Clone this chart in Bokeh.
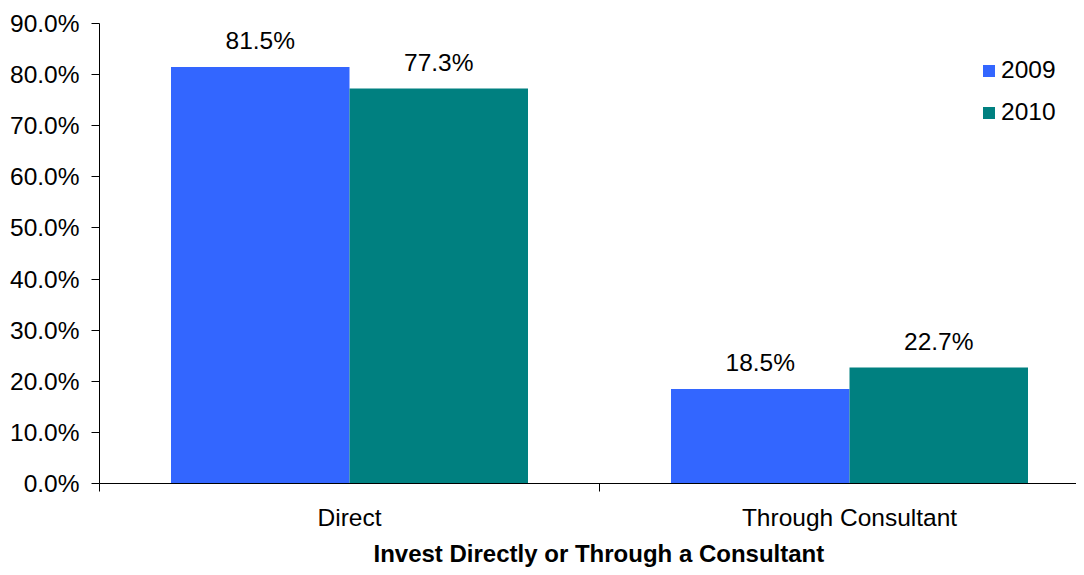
from bokeh.plotting import figure
from bokeh.models import (ColumnDataSource, Range1d, FixedTicker, PrintfTickFormatter,
                          Legend, LegendItem, Title)
from bokeh.transform import dodge
from bokeh.core.properties import value
from bokeh.embed import file_html
from bokeh.resources import INLINE

categories = ["Direct", "Through Consultant"]
series_names = ["2009", "2010"]
values_2009 = [81.5, 18.5]
values_2010 = [77.3, 22.7]
colors = ["#3366FF", "#008080"]
y_ticks = [0, 10, 20, 30, 40, 50, 60, 70, 80, 90]
x_title = "Invest Directly or Through a Consultant"

FONT = "Liberation Sans"
FS = "24.5px"

centers = [i + 0.5 for i in range(len(categories))]
src = ColumnDataSource(dict(
    x=centers,
    v2009=values_2009,
    v2010=values_2010,
    l2009=[f"{v:.1f}%" for v in values_2009],
    l2010=[f"{v:.1f}%" for v in values_2010],
))

p = figure(frame_width=977, frame_height=460, output_backend="svg", toolbar_location=None,
           x_range=Range1d(0, 1.954), y_range=Range1d(0, 90),
           min_border_left=99, min_border_right=0, min_border_top=23, min_border_bottom=84)
p.outline_line_color = None
p.xgrid.visible = False
p.ygrid.visible = False
p.background_fill_color = "white"
p.border_fill_color = "white"

bw = 0.357
r1 = p.vbar(x=dodge("x", -bw / 2, range=p.x_range), top="v2009", width=bw, source=src,
            fill_color=colors[0], line_color=None)
r2 = p.vbar(x=dodge("x", bw / 2, range=p.x_range), top="v2010", width=bw, source=src,
            fill_color=colors[1], line_color=None)

for col, lab, off in [("v2009", "l2009", -bw / 2), ("v2010", "l2010", bw / 2)]:
    p.text(x=dodge("x", off, range=p.x_range), y=col, text=lab, source=src,
           text_font=value(FONT), text_font_size=FS, text_color="black",
           text_align="center", text_baseline="alphabetic", y_offset=-26)

# y axis
p.yaxis.ticker = FixedTicker(ticks=y_ticks)
p.yaxis.formatter = PrintfTickFormatter(format="%.1f%%")
p.yaxis.major_label_text_font = FONT
p.yaxis.major_label_text_font_size = FS
p.yaxis.major_label_text_color = "black"
p.yaxis.major_tick_out = 8
p.yaxis.major_tick_in = 0
p.yaxis.minor_tick_line_color = None
p.yaxis.axis_line_color = "black"
p.yaxis.major_tick_line_color = "black"
p.yaxis.major_label_standoff = 12

# x axis
p.xaxis.ticker = FixedTicker(ticks=centers, minor_ticks=[0, 1, 2])
p.xaxis.major_label_overrides = {c: n for c, n in zip(centers, categories)}
p.xaxis.major_label_text_font = FONT
p.xaxis.major_label_text_font_size = FS
p.xaxis.major_label_text_color = "black"
p.xaxis.major_tick_out = 0
p.xaxis.major_tick_in = 0
p.xaxis.minor_tick_out = 8
p.xaxis.minor_tick_in = 0
p.xaxis.minor_tick_line_color = "black"
p.xaxis.axis_line_color = "black"
p.xaxis.major_label_standoff = 12

p.add_layout(Title(text=x_title, align="left", offset=274, text_font=FONT,
                   text_font_size="24px", text_font_style="bold", text_color="black",
                   standoff=9), "below")

legend = Legend(items=[LegendItem(label=series_names[0], renderers=[r1]),
                       LegendItem(label=series_names[1], renderers=[r2])],
                location=(882, 357), orientation="vertical")
legend.label_text_font = FONT
legend.label_text_font_size = FS
legend.label_text_color = "black"
legend.glyph_width = 15
legend.glyph_height = 15
legend.label_standoff = 5
legend.spacing = 14
legend.padding = 0
legend.margin = 0
legend.border_line_color = None
legend.background_fill_alpha = 0
p.add_layout(legend)

open("out.html", "w").write(file_html(p, INLINE))
